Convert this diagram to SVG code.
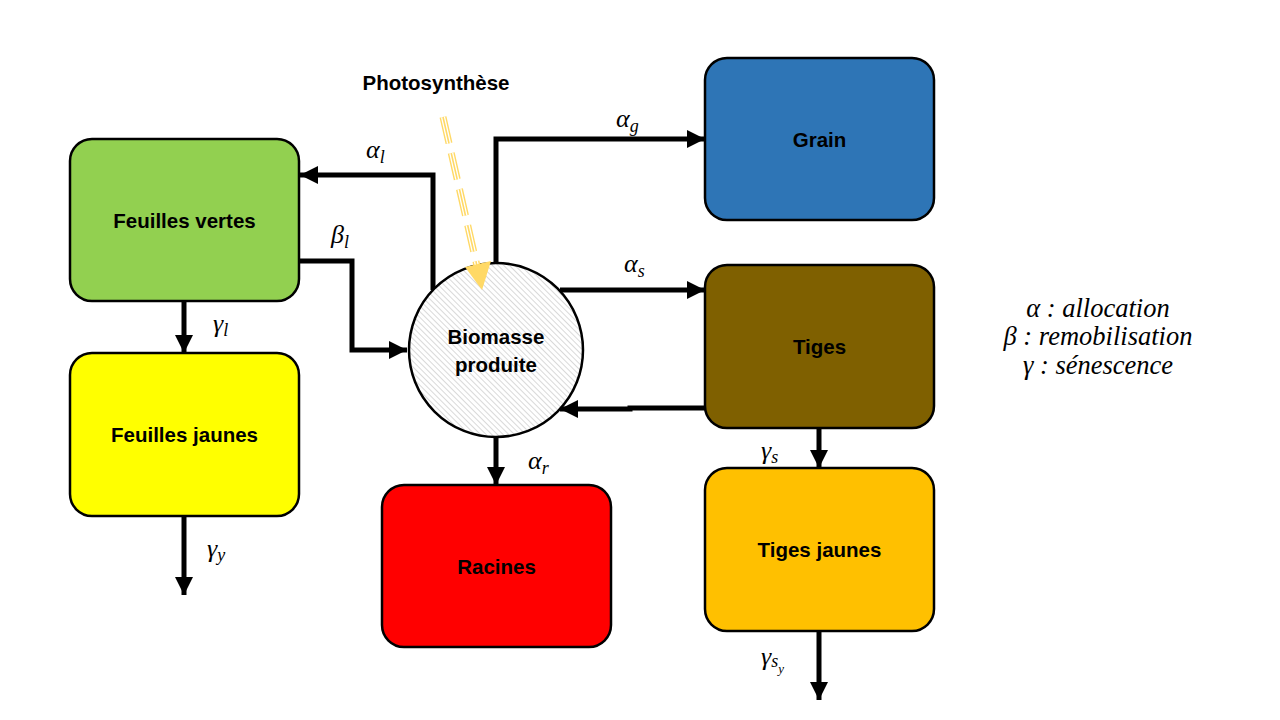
<svg xmlns="http://www.w3.org/2000/svg" width="1280" height="720" viewBox="0 0 1280 720">
<style>
.box{stroke:#000;stroke-width:2.5}
.lbl{font-family:"Liberation Sans",Arial,sans-serif;font-weight:bold;font-size:20.5px;text-anchor:middle;fill:#000}
.m{font-family:"Liberation Serif","DejaVu Serif",serif;font-style:italic;font-size:26px;fill:#000}
.sub{font-size:18px}
.con{fill:none;stroke:#000;stroke-width:5;marker-end:url(#ah)}
.leg{font-family:"Liberation Serif","DejaVu Serif",serif;font-style:italic;font-size:26.5px;text-anchor:middle;fill:#000}
</style>
<defs>
<marker id="ah" markerUnits="userSpaceOnUse" markerWidth="20" markerHeight="20" refX="18" refY="9" orient="auto">
<path d="M0,0 L18,9 L0,18 Z" fill="#000"/>
</marker>
<pattern id="hatch" width="4" height="4" patternUnits="userSpaceOnUse" patternTransform="rotate(-45)">
<rect width="4" height="4" fill="#fff"/>
<line x1="0" y1="0" x2="0" y2="4" stroke="#bfbfbf" stroke-width="1.2"/>
</pattern>
</defs>
<rect width="1280" height="720" fill="#fff"/>

<g id="connectors">
<polyline class="con" points="433,290 433,175 300,175"/>
<polyline class="con" points="299,261 352,261 352,350 407,350"/>
<polyline class="con" points="496,266 496,139 705,139"/>
<polyline class="con" points="560,290 705,290"/>
<polyline class="con" points="705,408 630,408 630,409 560,409"/>
<polyline class="con" points="819,428 819,468"/>
<polyline class="con" points="819,631 819,700"/>
<polyline class="con" points="184,301 184,353"/>
<polyline class="con" points="184,516 184,595"/>
<polyline class="con" points="496,436 496,485"/>
</g>

<g id="feuilles-vertes"><rect class="box" x="70" y="139" width="229" height="162" rx="22" fill="#92D050"/><text class="lbl" x="184.5" y="228">Feuilles vertes</text></g>
<g id="feuilles-jaunes"><rect class="box" x="70" y="353" width="229" height="163" rx="22" fill="#FFFF00"/><text class="lbl" x="184.5" y="442">Feuilles jaunes</text></g>
<g id="grain"><rect class="box" x="705" y="58" width="229" height="162" rx="22" fill="#2E75B6"/><text class="lbl" x="819.5" y="147">Grain</text></g>
<g id="tiges"><rect class="box" x="705" y="265" width="229" height="163" rx="22" fill="#7F6000"/><text class="lbl" x="819.5" y="354">Tiges</text></g>
<g id="tiges-jaunes"><rect class="box" x="705" y="468" width="229" height="163" rx="22" fill="#FFC000"/><text class="lbl" x="819.5" y="557">Tiges jaunes</text></g>
<g id="racines"><rect class="box" x="382" y="485" width="229" height="162" rx="22" fill="#FF0000"/><text class="lbl" x="496.5" y="574">Racines</text></g>
<g id="biomasse"><circle class="box" cx="496" cy="350" r="87" fill="url(#hatch)"/><text class="lbl" x="496" y="344">Biomasse</text><text class="lbl" x="496" y="372">produite</text></g>

<g id="photosynthese">
<text class="lbl" x="436" y="90">Photosynthèse</text>
<g stroke-dasharray="27 10" fill="none">
<line x1="443" y1="117" x2="477" y2="266" stroke="#FFD966" stroke-width="7"/>
<line x1="443" y1="117" x2="477" y2="266" stroke="#fff" stroke-width="4.2"/>
<line x1="443" y1="117" x2="477" y2="266" stroke="#FFD966" stroke-width="1.6"/>
</g>
<path d="M465,267 L491,261 L482,290 Z" fill="#FFD966"/>
</g>

<g id="labels">
<text class="m" x="366" y="158">α<tspan class="sub" dy="5">l</tspan></text>
<text class="m" x="331" y="243">β<tspan class="sub" dy="5">l</tspan></text>
<text class="m" x="616" y="127">α<tspan class="sub" dy="5">g</tspan></text>
<text class="m" x="624" y="272">α<tspan class="sub" dy="5">s</tspan></text>
<text class="m" x="528" y="469">α<tspan class="sub" dy="5">r</tspan></text>
<text class="m" x="761" y="459">γ<tspan class="sub" dy="4">s</tspan></text>
<text class="m" x="761" y="665">γ<tspan class="sub" dy="2">s</tspan><tspan style="font-size:13px" dy="6">y</tspan></text>
<text class="m" x="213" y="332">γ<tspan class="sub" dy="4">l</tspan></text>
<text class="m" x="207" y="557">γ<tspan class="sub" dy="4">y</tspan></text>
</g>

<g id="legend">
<text class="leg" x="1098" y="317">α : allocation</text>
<text class="leg" x="1098" y="345">β : remobilisation</text>
<text class="leg" x="1098" y="374">γ : sénescence</text>
</g>
</svg>
